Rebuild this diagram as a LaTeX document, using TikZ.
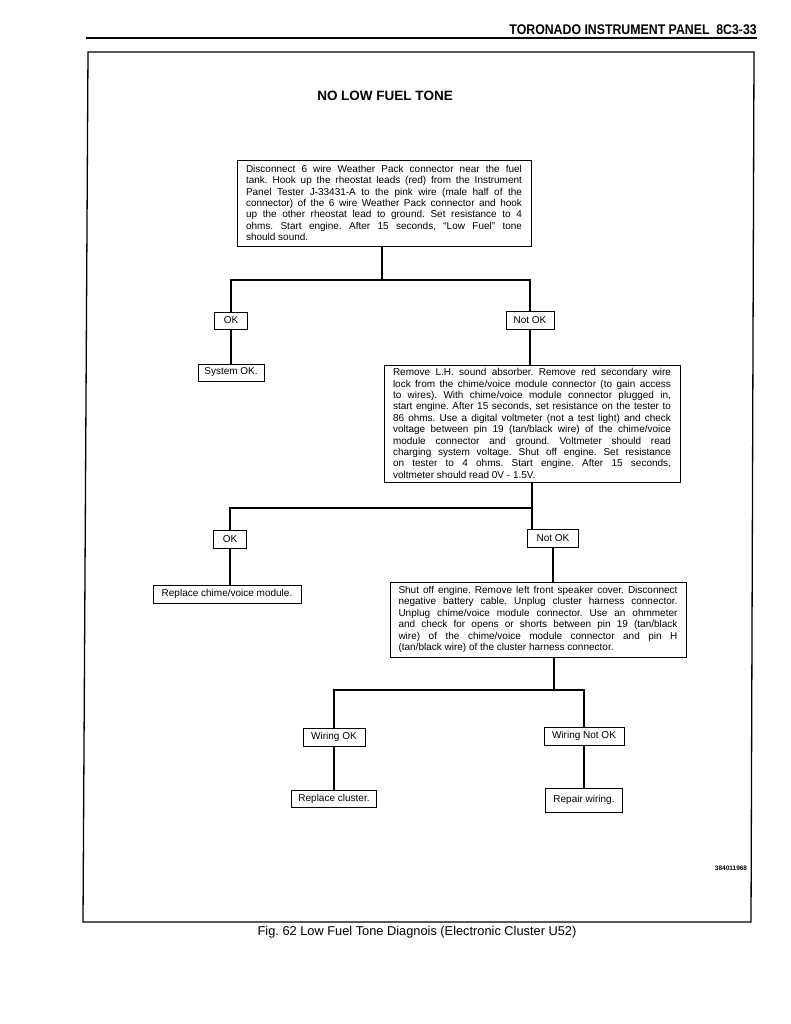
\documentclass[tikz,border=0pt]{standalone}
\usepackage{fontspec}
\setmainfont{Liberation Sans}
\newfontfamily\hdrfont[FakeStretch=0.88]{Liberation Sans}
\begin{document}
\frenchspacing
\begin{tikzpicture}[x=1pt,y=-1pt,
  box/.style={draw, line width=0.8pt, inner sep=0pt, font=\fontsize{10}{11.4}\selectfont},
  big/.style={box, align=justify},
  conn/.style={line width=1.7pt},
  frame/.style={line width=1.3pt}]
\useasboundingbox (0,0) rectangle (791,1024);
% header
\node[font=\hdrfont\bfseries\fontsize{14}{14}\selectfont, anchor=south east, inner sep=0pt] (hdr) at (757,35) {TORONADO INSTRUMENT PANEL\ \ 8C3-33};
\draw[frame] (86,38) -- (757,38);
\draw[frame] (88,52) -- (754,52) -- (751,922) -- (83,922) -- cycle;
% title
\node[font=\bfseries\fontsize{13.5}{13.5}\selectfont] (title) at (385,96) {NO LOW FUEL TONE};
% boxes
\tolerance=10000
\node[big, minimum width=294, minimum height=86, text width=276pt] (b1) at (384,203) {Disconnect 6 wire Weather Pack connector near the fuel\linebreak
tank. Hook up the rheostat leads (red) from the Instrument\linebreak
Panel Tester J-33431-A to the pink wire (male half of the\linebreak
connector) of the 6 wire Weather Pack connector and hook\linebreak
up the other rheostat lead to ground. Set resistance to 4\linebreak
ohms. Start engine. After 15 seconds, ``Low Fuel'' tone\linebreak
should sound.};
\node[box, minimum width=33, minimum height=17] (ok1) at (231,320.5) {OK};
\node[box, minimum width=48, minimum height=18] (nok1) at (530,320) {Not OK};
\node[box, minimum width=66, minimum height=17] (sys) at (231,372.5) {System OK.};
\node[big, minimum width=296, minimum height=117, text width=278pt] (b2) at (532,423.5) {Remove L.H. sound absorber. Remove red secondary wire\linebreak
lock from the chime/voice module connector (to gain access\linebreak
to wires). With chime/voice module connector plugged in,\linebreak
start engine. After 15 seconds, set resistance on the tester to\linebreak
86 ohms. Use a digital voltmeter (not a test light) and check\linebreak
voltage between pin 19 (tan/black wire) of the chime/voice\linebreak
module connector and ground. Voltmeter should read\linebreak
charging system voltage. Shut off engine. Set resistance\linebreak
on tester to 4 ohms. Start engine. After 15 seconds,\linebreak
voltmeter should read 0V - 1.5V.};
\node[box, minimum width=33, minimum height=18] (ok2) at (230,539) {OK};
\node[box, minimum width=51, minimum height=18] (nok2) at (553,538) {Not OK};
\node[box, minimum width=148, minimum height=18] (rcm) at (227,594) {Replace chime/voice module.};
\node[big, minimum width=296, minimum height=75, text width=279pt] (b3) at (538,619.5) {Shut off engine. Remove left front speaker cover. Disconnect\linebreak
negative battery cable. Unplug cluster harness connector.\linebreak
Unplug chime/voice module connector. Use an ohmmeter\linebreak
and check for opens or shorts between pin 19 (tan/black\linebreak
wire) of the chime/voice module connector and pin H\linebreak
(tan/black wire) of the cluster harness connector.};
\node[box, minimum width=62, minimum height=18] (wok) at (334,737) {Wiring OK};
\node[box, minimum width=80, minimum height=18] (wnok) at (584,736) {Wiring Not OK};
\node[box, minimum width=85, minimum height=17] (rc) at (334,798.5) {Replace cluster.};
\node[box, minimum width=77, minimum height=24] (rw) at (584,800) {Repair wiring.};
% connectors
\coordinate (j1) at (382,280);
\draw[conn] (b1.south -| j1) -- (j1);
\draw[conn] (ok1.north) |- (j1) -| (nok1.north);
\draw[conn] (ok1.south) -- (ok1.south |- sys.north);
\draw[conn] (nok1.south) -- (nok1.south |- b2.north);
\coordinate (j2) at (532,508);
\draw[conn] (b2.south) -- (b2.south |- nok2.north);
\draw[conn] (ok2.north) |- (j2);
\draw[conn] (ok2.south) -- (ok2.south |- rcm.north);
\draw[conn] (nok2.south) -- (nok2.south |- b3.north);
\coordinate (j3) at (554,690);
\draw[conn] (j3 |- b3.south) -- (j3);
\draw[conn] (wok.north) |- (j3) -| (wnok.north);
\draw[conn] (wok.south) -- (wok.south |- rc.north);
\draw[conn] (wnok.south) -- (wnok.south |- rw.north);
% code and caption
\node[font=\bfseries\fontsize{6.5}{6.5}\selectfont, inner sep=0pt] (code) at (731,868) {384011968};
\node[font=\fontsize{12.8}{13}\selectfont, inner sep=0pt] (cap) at (417,932) {Fig. 62 Low Fuel Tone Diagnois (Electronic Cluster U52)};
\end{tikzpicture}
\end{document}
